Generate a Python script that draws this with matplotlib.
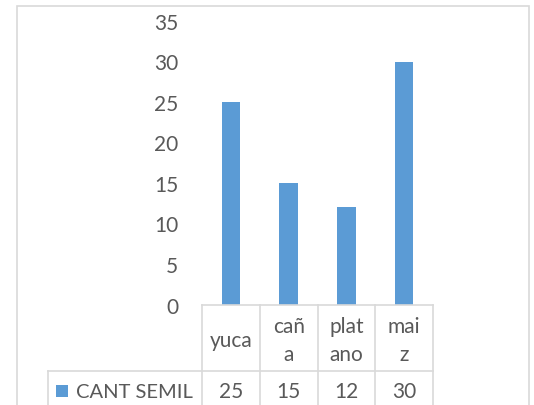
"""Bar chart with a data table under the axis (Excel style)."""

import matplotlib

matplotlib.use("Agg")
import matplotlib.pyplot as plt
from matplotlib.patches import Rectangle
from matplotlib.transforms import blended_transform_factory

matplotlib.rcParams["font.family"] = ["Lato", "DejaVu Sans"]

# data
categories = ["yuca", "caña", "platano", "maiz"]
header_labels = ["yuca", "cañ\na", "plat\nano", "mai\nz"]
series_name = "CANT SEMIL"
values = [25, 15, 12, 30]
y_ticks = [0, 5, 10, 15, 20, 25, 30, 35]

bar_color = "#5B9BD5"
text_color = "#595959"
line_color = "#D9D9D9"
fs = 15

W, H = 534, 406
fig = plt.figure(figsize=(W / 100, H / 100), dpi=100)

# chart frame
fig.patches.append(
    Rectangle((17 / W, -0.1), (529 - 17) / W, (H - 7) / H + 0.1,
              transform=fig.transFigure, fill=False, edgecolor=line_color,
              linewidth=1.2)
)

ax = fig.add_axes([202 / W, 1 - 305.5 / H, (433 - 202) / W, (305.5 - 22) / H])
x = list(range(len(categories)))
ax.bar(x, values, width=0.32, color=bar_color)
ax.set_xlim(-0.5, len(categories) - 0.5)
ax.set_ylim(0, 35)
ax.set_yticks(y_ticks)
ax.set_yticklabels([str(t) for t in y_ticks], fontsize=fs, color=text_color)
ax.set_xticks([])
ax.tick_params(axis="y", length=0, pad=17)
for s in ax.spines.values():
    s.set_visible(False)

# data table below the axis
ax_px = 305.5 - 22
col_px = (433 - 202) / len(categories)
hdr_bot = -(372 - 305.5) / ax_px
row_bot = -(420 - 305.5) / ax_px
trans = blended_transform_factory(ax.transData, ax.transAxes)
kw = dict(color=line_color, linewidth=1.2, clip_on=False)

ax.plot([-0.5, len(categories) - 0.5], [0, 0], transform=trans, **kw)
for b in [i - 0.5 for i in range(len(categories) + 1)]:
    ax.plot([b, b], [0, row_bot], transform=trans, **kw)

legend_left = -0.5 - (202 - 48) / col_px
ax.plot([legend_left, len(categories) - 0.5], [hdr_bot, hdr_bot],
        transform=trans, **kw)
ax.plot([legend_left, legend_left], [hdr_bot, row_bot], transform=trans, **kw)

hdr_mid = -(341 - 305.5) / ax_px
row_mid = -(392 - 305.5) / ax_px
for i, lab in enumerate(header_labels):
    ax.text(i, hdr_mid, lab, transform=trans, ha="center", va="center",
            fontsize=fs, color=text_color, linespacing=1.55)
for i, v in enumerate(values):
    ax.text(i, row_mid, str(v), transform=trans, ha="center", va="center",
            fontsize=fs, color=text_color)

# legend key inside the table row
ax.add_patch(Rectangle((legend_left + 8 / col_px, row_mid - 6 / ax_px),
                       12 / col_px, 12 / ax_px, transform=trans,
                       facecolor=bar_color, edgecolor="none", clip_on=False))
ax.text(legend_left + 28 / col_px, row_mid, series_name, transform=trans,
        ha="left", va="center", fontsize=14.5, color=text_color)

fig.savefig("out.png", dpi=100)
